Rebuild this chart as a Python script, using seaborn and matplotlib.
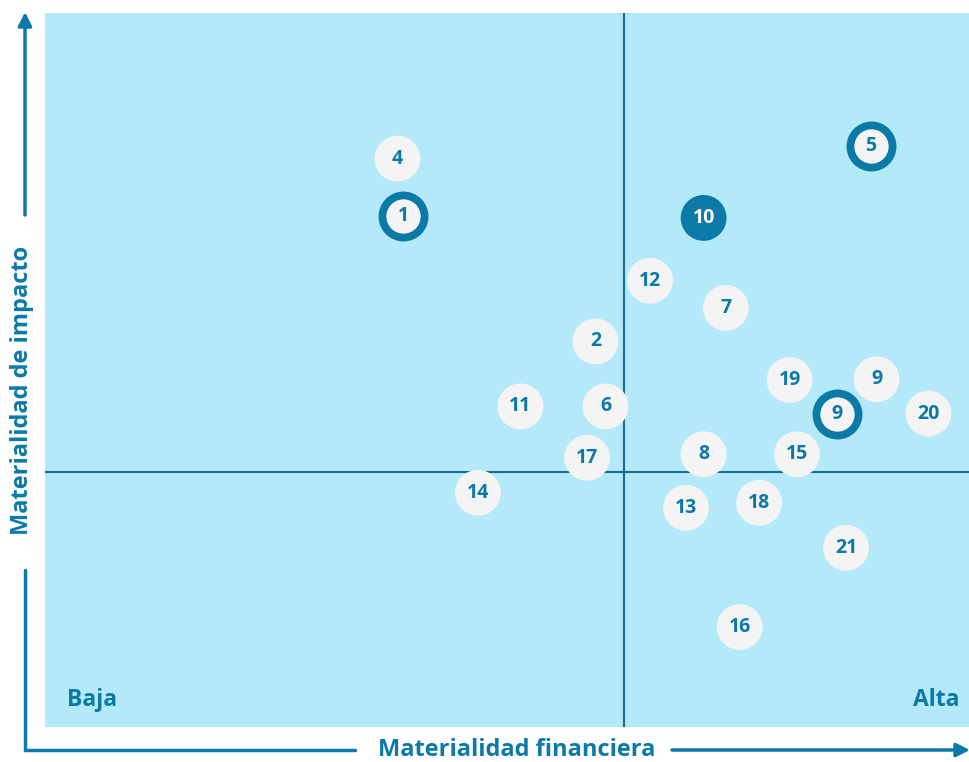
import matplotlib
matplotlib.use('Agg')
import matplotlib.pyplot as plt
import seaborn as sns
import pandas as pd
from matplotlib.lines import Line2D
from matplotlib.patches import FancyArrowPatch

labels = ['4', '1', '10', '5', '12', '7', '2', '19', '9', '9', '20',
          '11', '6', '17', '8', '15', '14', '13', '18', '21', '16']
fin = [38.1, 38.7, 71.2, 89.3, 65.4, 73.6, 59.5, 80.5, 89.9, 85.6, 95.5,
       51.4, 60.6, 58.6, 71.2, 81.3, 46.8, 69.3, 77.2, 86.6, 75.1]
imp = [79.6, 71.6, 71.3, 81.4, 62.5, 58.7, 54.0, 48.6, 48.7, 43.9, 43.9,
       44.9, 44.9, 37.7, 38.2, 38.2, 32.8, 30.7, 31.4, 25.1, 14.0]
kind = ['plain', 'ring', 'filled', 'ring', 'plain', 'plain', 'plain', 'plain', 'plain', 'ring', 'plain',
        'plain', 'plain', 'plain', 'plain', 'plain', 'plain', 'plain', 'plain', 'plain', 'plain']
split_x = 62.6
split_y = 35.7

BG = '#b3e9f9'
BLUE = '#0b7aa6'
LINE = '#1a6e95'
GREY = '#f4f4f4'

df = pd.DataFrame({'label': labels, 'fin': fin, 'imp': imp, 'kind': kind})

sns.set_style('white')
plt.rcParams['font.family'] = ['Open Sans', 'DejaVu Sans']

fig = plt.figure(figsize=(9.7, 7.62), dpi=100)
ax = fig.add_axes([45 / 970, 1 - 727 / 762, 925 / 970, 714 / 762])
ax.set_facecolor(BG)
ax.set_xlim(0, 100)
ax.set_ylim(0, 100)
for s in ax.spines.values():
    s.set_visible(False)
ax.set_xticks([])
ax.set_yticks([])

ax.axvline(split_x, color=LINE, lw=1.5, zorder=1)
ax.axhline(split_y, color=LINE, lw=1.5, zorder=1)

styles = {
    'plain': dict(s=1090, color=GREY, edgecolor='none', linewidth=0),
    'ring': dict(s=920, color=GREY, edgecolor=BLUE, linewidth=5.6),
    'filled': dict(s=1090, color=BLUE, edgecolor='none', linewidth=0),
}
for k, st in styles.items():
    sub = df[df['kind'] == k]
    sns.scatterplot(data=sub, x='fin', y='imp', ax=ax, zorder=3, legend=False, **st)
    for _, r in sub.iterrows():
        ax.text(r['fin'], r['imp'], r['label'], ha='center', va='center',
                fontsize=14, fontweight='bold', color='white' if k == 'filled' else BLUE, zorder=4)
ax.set_xlabel('')
ax.set_ylabel('')

ax.text(47 / 925, 27 / 714, 'Baja', transform=ax.transAxes, ha='center', va='center',
        fontsize=16.5, fontweight='bold', color=BLUE)
ax.text(891 / 925, 27 / 714, 'Alta', transform=ax.transAxes, ha='center', va='center',
        fontsize=16.5, fontweight='bold', color=BLUE)


def fx(px):
    return px / 970


def fy(py):
    return 1 - py / 762


fig.add_artist(Line2D([fx(25), fx(25), fx(355)], [fy(570), fy(750), fy(750)], color=BLUE, lw=2.5,
                      solid_joinstyle='miter'))
fig.add_artist(FancyArrowPatch((fx(25), fy(215)), (fx(25), fy(12)), transform=fig.transFigure,
                               arrowstyle='-|>', mutation_scale=20, color=BLUE, lw=2.5,
                               shrinkA=0, shrinkB=0))
fig.add_artist(FancyArrowPatch((fx(672), fy(750)), (fx(970), fy(750)), transform=fig.transFigure,
                               arrowstyle='-|>', mutation_scale=20, color=BLUE, lw=2.5,
                               shrinkA=0, shrinkB=0))

fig.text(fx(517), fy(750), 'Materialidad financiera', ha='center', va='center',
         fontsize=17, fontweight='bold', color=BLUE)
fig.text(fx(22), fy(390), 'Materialidad de impacto', ha='center', va='center', rotation=90,
         fontsize=17, fontweight='bold', color=BLUE)

fig.savefig('out.png', dpi=100)
